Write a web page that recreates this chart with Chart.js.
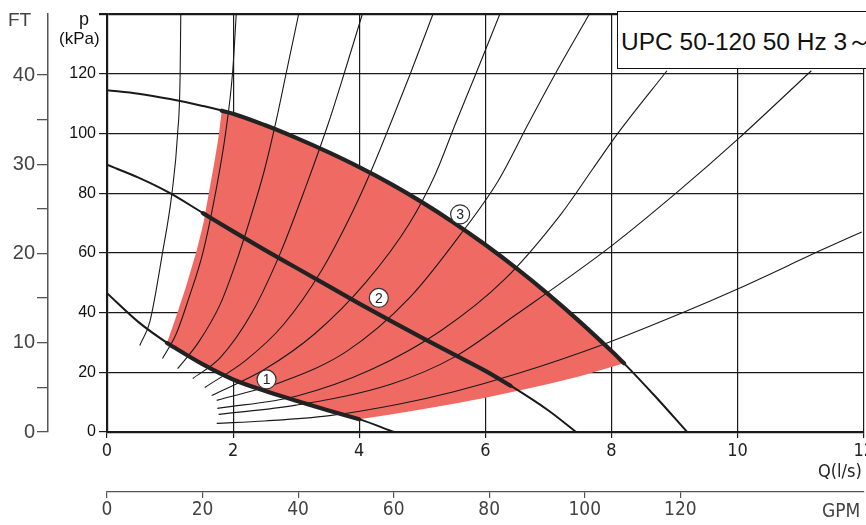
<!DOCTYPE html>
<html>
<head>
<meta charset="utf-8">
<script src="https://cdn.jsdelivr.net/npm/chart.js@4.4.1/dist/chart.umd.min.js"></script>
<style>
  html, body { margin: 0; padding: 0; background: #fff; overflow: hidden; }
  #wrap { position: relative; width: 866px; height: 525px; overflow: hidden; }
  canvas { position: absolute; left: 0; top: 0; }
  .lbl { position: absolute; white-space: nowrap; font-family: "Liberation Sans", Arial, sans-serif; }
  .narrow { font-family: "Liberation Sans Narrow", "DejaVu Sans Condensed", "Liberation Sans", sans-serif; }
  #title { position: absolute; left: 617px; top: 11px; width: 262px; height: 58px; box-sizing: border-box;
           border: 1.5px solid #111; background: #fff; font-family: "Liberation Sans", Arial, sans-serif;
           font-size: 24.5px; color: #111; padding: 13px 0 0 3px; white-space: nowrap; }
</style>
</head>
<body>
<div id="wrap">
  <canvas id="pump" width="877" height="525"></canvas>
  <div id="title">UPC 50-120 50 Hz 3～</div>
  <div class="lbl" style="left:8px; top:9px; font-size:19px; color:#444;">FT</div>
  <div class="lbl" style="left:79px; top:9px; font-size:18px; color:#111;">p</div>
  <div class="lbl" style="left:59px; top:29px; font-size:17px; color:#111;">(kPa)</div>
  <div class="lbl narrow" style="left:818px; top:460px; font-size:18px; color:#222;">Q(l/s)</div>
  <div class="lbl narrow" style="left:822px; top:499px; font-size:19px; color:#444;">GPM</div>
</div>
<script>
// pump curves, Q in l/s, p in kPa
const curve1Q = [0, 0.5, 1, 1.5, 2, 2.5, 3, 3.5, 4, 4.55];
const curve1P = [46.5, 36.8, 29.2, 22.9, 17.6, 13.8, 10.5, 7.3, 4.3, 0];
const curve1BoldQ = [0.95, 1.5, 2, 2.5, 3, 3.5, 4];
const curve1BoldP = [29.8, 22.9, 17.6, 13.8, 10.5, 7.3, 4.3];

const curve2Q = [0, 0.5, 1, 1.5, 2, 2.5, 3, 3.5, 4, 4.5, 5, 5.5, 6, 6.4, 7, 7.44];
const curve2P = [89.5, 85.2, 80, 73.6, 67.2, 61, 55, 49, 43, 37.2, 31.5, 26, 20.5, 15.5, 7.2, 0];
const curve2BoldQ = [1.52, 2, 2.5, 3, 3.5, 4, 4.5, 5, 5.5, 6, 6.4];
const curve2BoldP = [73.3, 67.2, 61, 55, 49, 43, 37.2, 31.5, 26, 20.5, 15.5];

const curve3Q = [0, 0.5, 1, 1.5, 2, 2.5, 3, 3.5, 4, 4.5, 5, 5.5, 6, 6.5, 7, 7.5, 8, 8.2, 8.7, 9.2];
const curve3P = [114.5, 113.3, 111.5, 109.3, 106.6, 102.8, 98.5, 93.8, 88.7, 83.1, 76.9, 70.1, 62.7, 54.7, 46.1, 36.9, 27.1, 23, 11.8, 0];
const curve3BoldQ = [1.82, 2, 2.5, 3, 3.5, 4, 4.5, 5, 5.5, 6, 6.5, 7, 7.5, 8, 8.2];
const curve3BoldP = [107.6, 106.6, 102.8, 98.5, 93.8, 88.7, 83.1, 76.9, 70.1, 62.7, 54.7, 46.1, 36.9, 27.1, 23];

// red operating area, traced round its outline
const areaQ = [0.95, 1.07, 1.25, 1.42, 1.53, 1.62, 1.7, 1.77, 1.82,
               2, 2.5, 3, 3.5, 4, 4.5, 5, 5.5, 6, 6.5, 7, 7.5, 8, 8.2,
               7.5, 7, 6.5, 6, 5.5, 5, 4.5, 4,
               3.5, 3, 2.5, 2, 1.5, 0.95];
const areaP = [29.8, 37, 48.5, 60.6, 70, 80.6, 90, 99, 107.6,
               106.6, 102.8, 98.5, 93.8, 88.7, 83.1, 76.9, 70.1, 62.7, 54.7, 46.1, 36.9, 27.1, 23,
               18.7, 16.1, 13.7, 11.5, 9.5, 7.6, 5.9, 4.3,
               7.3, 10.5, 13.8, 17.6, 22.9, 29.8];

// thin fan of curves
const thinQ = [
  [0.52, 0.68, 0.88, 1.03, 1.12, 1.16, 1.17],
  [0.88, 1.1, 1.3, 1.52, 1.72, 1.88, 1.99, 2.05],
  [1.12, 1.45, 1.8, 2.05, 2.25, 2.5, 2.68, 2.84, 3.04],
  [1.36, 1.8, 2.3, 2.75, 3.15, 3.52, 3.76, 4.05],
  [1.55, 2.2, 2.8, 3.4, 3.9, 4.2, 4.51, 4.81, 5.17],
  [1.66, 2.5, 3.3, 4.1, 4.8, 5.2, 5.54, 5.85, 6.23],
  [1.74, 2.8, 3.8, 4.8, 5.6, 6.2, 6.7, 7.11, 7.65],
  [1.75, 3, 4.2, 5.3, 6.3, 7.2, 7.7, 8.1, 8.88],
  [1.77, 3, 4.5, 5.5, 6.5, 7.98, 9.08, 10, 11.17],
  [1.74, 2.5, 3.5, 4.62, 5.5, 6.5, 7.89, 9.2, 10, 11.4, 11.97]
];
const thinP = [
  [29, 37, 60, 80, 100, 120, 140],
  [24.6, 33, 45, 60, 80, 100, 120, 140],
  [21.2, 30, 43, 57, 70, 88, 104, 120, 140],
  [17.9, 25, 40, 60, 82, 104, 120, 140],
  [14.9, 24, 36, 54, 74, 88, 104, 120, 140],
  [12.2, 21, 33, 50, 70, 86, 104, 120, 140],
  [10.6, 17, 27, 45, 66, 84, 104, 120, 140],
  [7.9, 12, 21, 34, 51, 73, 88, 100, 121],
  [5.9, 9, 16, 25, 39.5, 62, 81, 98, 121],
  [2.9, 3.7, 5.4, 9.3, 13.5, 19.5, 29.5, 40.6, 47.9, 61.6, 67]
];

// speed markers
const markQ = [2.53, 4.31, 5.6];
const markP = [17.6, 44.9, 72.9];
const markLabels = ["1", "2", "3"];

const xTicksMax = 12;
const pMax = 140;
const kPaPerFt = 2.989;
const gpmPerLs = 13.198;

const pts = (qs, ps) => qs.map((q, i) => ({ x: q, y: ps[i] }));
const ink = "#1a1a1a";
const red = "#f06a64";

const datasets = [];
datasets.push({ data: pts(areaQ, areaP), fill: "shape", backgroundColor: red, borderWidth: 0,
                pointRadius: 0, tension: 0, order: 6 });
thinQ.forEach((qs, i) => {
  datasets.push({ data: pts(qs, thinP[i]), borderColor: ink, borderWidth: 1.1, pointRadius: 0,
                  cubicInterpolationMode: "monotone", fill: false, order: 5 });
});
[[curve1Q, curve1P], [curve2Q, curve2P], [curve3Q, curve3P]].forEach(([q, p]) => {
  datasets.push({ data: pts(q, p), borderColor: ink, borderWidth: 2, pointRadius: 0,
                  cubicInterpolationMode: "monotone", fill: false, order: 4 });
});
[[curve1BoldQ, curve1BoldP], [curve2BoldQ, curve2BoldP], [curve3BoldQ, curve3BoldP]].forEach(([q, p]) => {
  datasets.push({ data: pts(q, p), borderColor: "#222", borderWidth: 4.2, pointRadius: 0,
                  cubicInterpolationMode: "monotone", fill: false, order: 3, borderCapStyle: "round" });
});
const markIndex = datasets.length;
datasets.push({ data: pts(markQ, markP), showLine: false, pointRadius: 9.5, pointBackgroundColor: "#fff",
                pointBorderColor: "#333", pointBorderWidth: 1.2, order: 1 });

const markText = {
  id: "markText",
  afterDraw(chart) {
    const ctx = chart.ctx;
    ctx.save();
    ctx.font = "14px 'Liberation Sans', Arial, sans-serif";
    ctx.fillStyle = "#222";
    ctx.textAlign = "center";
    ctx.textBaseline = "middle";
    chart.getDatasetMeta(markIndex).data.forEach((pt, i) => ctx.fillText(markLabels[i], pt.x, pt.y + 1));
    ctx.restore();
  }
};

const narrow = "'Liberation Sans Narrow', 'DejaVu Sans Condensed', 'Liberation Sans', sans-serif";

new Chart(document.getElementById("pump"), {
  type: "line",
  data: { datasets },
  plugins: [markText],
  options: {
    responsive: false,
    animation: false,
    events: [],
    layout: { padding: { top: 12, left: 0, right: 0, bottom: 0 } },
    plugins: { legend: { display: false }, tooltip: { enabled: false } },
    scales: {
      x: {
        type: "linear", position: "bottom", min: 0, max: xTicksMax, z: 1, weight: 0,
        ticks: { stepSize: 2, color: "#222", padding: 3, maxRotation: 0,
                 font: { family: narrow, size: 18 } },
        grid: { color: ink, lineWidth: 1.2, tickLength: 6 },
        border: { color: ink, width: 2.2 },
        afterFit: s => { s.height = 60; }
      },
      gpm: {
        type: "linear", position: "bottom", min: 0, max: xTicksMax * gpmPerLs, weight: 1,
        afterBuildTicks: s => { s.ticks = s.ticks.filter(t => t.value <= 140); },
        ticks: { stepSize: 20, color: "#444", padding: 1, maxRotation: 0,
                 font: { family: narrow, size: 19 } },
        grid: { drawOnChartArea: false, color: "#555", tickLength: 6, lineWidth: 1.2 },
        border: { color: "#555", width: 1.3 },
        afterFit: s => { s.height = 33; }
      },
      y: {
        type: "linear", position: "left", min: 0, max: pMax, z: 1, weight: 0,
        ticks: { stepSize: 20, color: "#111", padding: 3,
                 callback: v => (v === pMax ? "" : String(v)),
                 font: { family: "'Liberation Sans', Arial, sans-serif", size: 16 } },
        grid: { color: ink, tickLength: 8,
                lineWidth: c => (c.tick && c.tick.value === pMax ? 2.2 : 1.2) },
        border: { color: ink, width: 2.2 },
        afterFit: s => { s.width = 59; }
      },
      ft: {
        type: "linear", position: "left", min: 0, max: pMax / kPaPerFt, weight: 1,
        afterBuildTicks: s => { s.ticks = s.ticks.filter(t => t.value <= 40); },
        ticks: { stepSize: 5, color: "#444", padding: 2,
                 callback: v => (v % 10 === 0 ? String(v) : ""),
                 font: { family: "'Liberation Sans', Arial, sans-serif", size: 20 } },
        grid: { drawOnChartArea: false, color: "#555", tickLength: 11, lineWidth: 1.3 },
        border: { color: "#555", width: 1.5 },
        afterFit: s => { s.width = 48; }
      }
    }
  }
});
</script>
</body>
</html>
